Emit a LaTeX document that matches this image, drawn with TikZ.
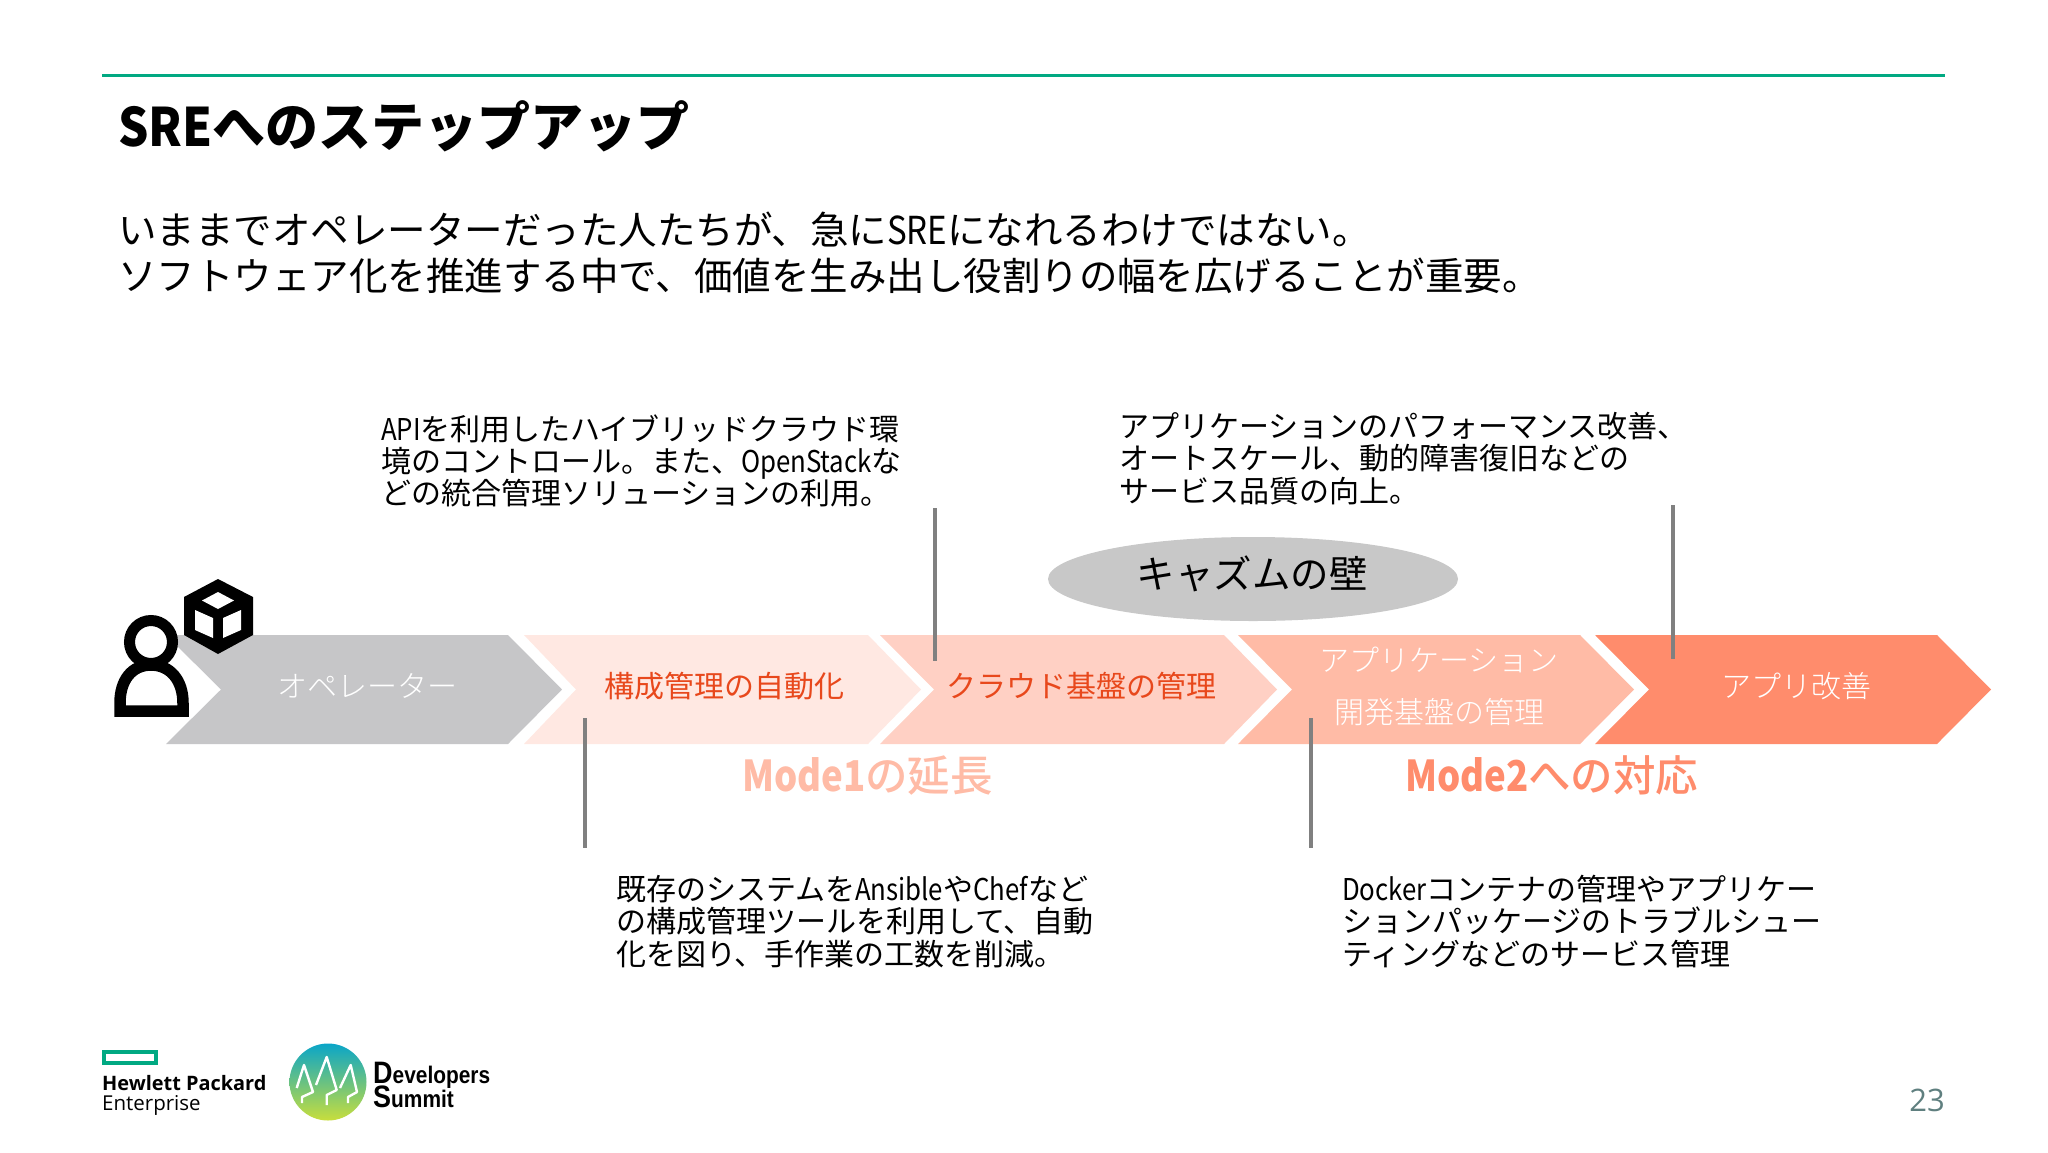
\documentclass[tikz,border=0pt]{standalone}
\usepackage{fontspec}
\usetikzlibrary{shapes.geometric}
\setmainfont{Noto Sans CJK JP}
\newfontfamily\lightkana[UprightFont=* Light]{Noto Sans CJK JP}
\newfontfamily\latn[FakeStretch=0.86]{Noto Sans CJK JP}
\newfontfamily\latnB[FakeStretch=0.9]{Noto Sans CJK JP}
\newfontfamily\latinlogo{Open Sans}
\newfontfamily\dsfont[FakeStretch=0.87]{Liberation Sans}
\newfontfamily\regkana[BoldFont=* Medium]{Noto Sans CJK JP}
\newcommand{\fsz}[1]{\fontsize{#1}{#1}\selectfont}
\newcommand{\lt}[1]{{\latn #1}}
\definecolor{hpegreen}{HTML}{01A982}
\definecolor{chA}{HTML}{C6C6C8}
\definecolor{chB}{HTML}{FFE8E2}
\definecolor{chC}{HTML}{FFD0C4}
\definecolor{chD}{HTML}{FFBBA6}
\definecolor{chE}{HTML}{FF8C6C}
\definecolor{redtxt}{HTML}{E8481C}
\definecolor{wallgray}{HTML}{C8C8C8}
\definecolor{leader}{HTML}{808080}
\definecolor{pagenum}{HTML}{5F7F7F}
\definecolor{dstop}{HTML}{0AA5C8}
\definecolor{dsbot}{HTML}{C8DE3C}
\tikzset{
 txt/.style={anchor=base west,inner sep=0pt,outer sep=0pt,font=\fsz{#1},text=black},
 note/.style={txt=30},
 chlabel/.style={anchor=base,inner sep=0pt,font=\lightkana\fsz{30},text=white},
 chred/.style={anchor=base,inner sep=0pt,font=\fsz{30},text=redtxt},
 leaderline/.style={draw=leader,line width=4pt},
}
\begin{document}
\begin{tikzpicture}[x=1pt,y=-1pt]
\useasboundingbox (0,0) rectangle (2048,1152);
\fill[white] (0,0) rectangle (2048,1152);
% header
\coordinate (ruleL) at (102,75);
\coordinate (ruleR) at (1945,75);
\draw[hpegreen,line width=3pt] (ruleL) -- (ruleR);
\node[txt=53,font=\fsz{53}\bfseries] (title) at (118,146) {{\latnB SRE}へのステップアップ};
\node[txt=38.5] (bodyA) at (118,244) {いままでオペレーターだった人たちが、急に\lt{SRE}になれるわけではない。};
\node[txt=38.5] (bodyB) at (118,290) {ソフトウェア化を推進する中で、価値を生み出し役割りの幅を広げることが重要。};
% chevrons
\fill[chA] (166,635) -- (508,635) -- (562,689.5) -- (508,744) -- (166,744) -- (221,689.5) -- cycle;
\fill[chB] (524,635) -- (868,635) -- (921,689.5) -- (868,744) -- (524,744) -- (576,689.5) -- cycle;
\fill[chC] (880,635) -- (1224,635) -- (1277,689.5) -- (1224,744) -- (880,744) -- (934,689.5) -- cycle;
\fill[chD] (1238,635) -- (1580,635) -- (1634,689.5) -- (1580,744) -- (1238,744) -- (1292,689.5) -- cycle;
\fill[chE] (1595,635) -- (1937,635) -- (1991,689.5) -- (1937,744) -- (1595,744) -- (1649,689.5) -- cycle;
\node[chlabel] (opA) at (367,697) {オペレーター};
\node[chred] (opB) at (724,697) {構成管理の自動化};
\node[chred] (opC) at (1081,697) {クラウド基盤の管理};
\node[chlabel] (opD1) at (1439,671) {アプリケーション};
\node[chlabel] (opD2) at (1439,723) {開発基盤の管理};
\node[chlabel] (opE) at (1796,697) {アプリ改善};
% wall
\node[ellipse,fill=wallgray,minimum width=410pt,minimum height=84pt,inner sep=0pt] (wall) at (1253,579) {};
\node[anchor=base,inner sep=0pt,font=\fsz{38.5}] (walltxt) at (1252,588) {キャズムの壁};
% mode labels
\node[txt=42.5,text=chD] (modeA) at (742,791) {{\latn\bfseries Mode1}{\regkana\bfseries の延長}};
\node[txt=42.5,text=chE] (modeB) at (1405,791) {{\latn\bfseries Mode2}{\regkana\bfseries への対応}};
% leader lines
\coordinate (l1a) at (585,718); \coordinate (l1b) at (585,848);
\coordinate (l2a) at (935,508); \coordinate (l2b) at (935,661);
\coordinate (l3a) at (1311,718); \coordinate (l3b) at (1311,848);
\coordinate (l4a) at (1673,505); \coordinate (l4b) at (1673,659);
\draw[leaderline] (l1a) -- (l1b);
\draw[leaderline] (l2a) -- (l2b);
\draw[leaderline] (l3a) -- (l3b);
\draw[leaderline] (l4a) -- (l4b);
% notes
\node[note] (a1) at (381,440) {\lt{API}を利用したハイブリッドクラウド環};
\node[note] (a2) at (381,472) {境のコントロール。また、\lt{OpenStack}な};
\node[note] (a3) at (381,504) {どの統合管理ソリューションの利用。};
\node[note] (b1) at (1119,437) {アプリケーションのパフォーマンス改善、};
\node[note] (b2) at (1119,469) {オートスケール、動的障害復旧などの};
\node[note] (b3) at (1119,502) {サービス品質の向上。};
\node[note] (c1) at (616,900) {既存のシステムを\lt{Ansible}や\lt{Chef}など};
\node[note] (c2) at (616,932) {の構成管理ツールを利用して、自動};
\node[note] (c3) at (616,965) {化を図り、手作業の工数を削減。};
\node[note] (d1) at (1342,900) {\lt{Docker}コンテナの管理やアプリケー};
\node[note] (d2) at (1342,932) {ションパッケージのトラブルシュー};
\node[note] (d3) at (1342,965) {ティングなどのサービス管理};
% person icon
\draw[black,line width=11pt] (151,642) circle (21.5);
\draw[black,line width=11.5pt,line join=miter] (120,711) -- (120,703) .. controls (120,680) and (132,665) .. (151,665) .. controls (170,665) and (183,680) .. (183,703) -- (183,711) -- cycle;
% cube icon
\fill[black] (218,579) -- (253,597) -- (253,635) -- (218,654) -- (184,635) -- (184,597) -- cycle;
\fill[white] (218,592) -- (234,600.5) -- (218,609) -- (202,600.5) -- cycle;
\fill[white] (195,610) -- (213,618) -- (213,638) -- (195,630) -- cycle;
\fill[white] (241,610) -- (223,618) -- (223,638) -- (241,630) -- cycle;
% HPE logo
\draw[hpegreen,line width=3.6pt] (104,1052) rectangle (156,1063);
\node[anchor=base west,inner sep=0pt,font=\latinlogo\bfseries\fsz{19.9}] (hpeA) at (102,1090) {Hewlett Packard};
\node[anchor=base west,inner sep=0pt,font=\latinlogo\fsz{20.5}] (hpeB) at (102,1110) {Enterprise};
% Developers Summit logo
\shade[top color=dstop,bottom color=dsbot] (328,1082) circle (38.5);
\draw[white,line width=2.4pt,line join=round] (296.7,1088) -- (304,1065) -- (313,1092) -- (302,1097) -- (302,1103);
\draw[white,line width=2.4pt,line join=round] (316,1085) -- (326.7,1057) -- (336.7,1090) -- (326.7,1095) -- (326.7,1105);
\draw[white,line width=2.4pt,line join=round] (340,1088) -- (350.7,1065) -- (357,1092) -- (348,1097) -- (348,1103);
\node[anchor=base west,inner sep=0pt,font=\dsfont\bfseries\fsz{24}] (dsA) at (373,1083) {{\fsz{31}D}evelopers};
\node[anchor=base west,inner sep=0pt,font=\dsfont\bfseries\fsz{24}] (dsB) at (373,1107) {{\fsz{31}S}ummit};
% page number
\node[anchor=base east,inner sep=0pt,font=\latinlogo\fsz{31},text=pagenum] (page) at (1945,1111) {23};
\end{tikzpicture}
\end{document}
